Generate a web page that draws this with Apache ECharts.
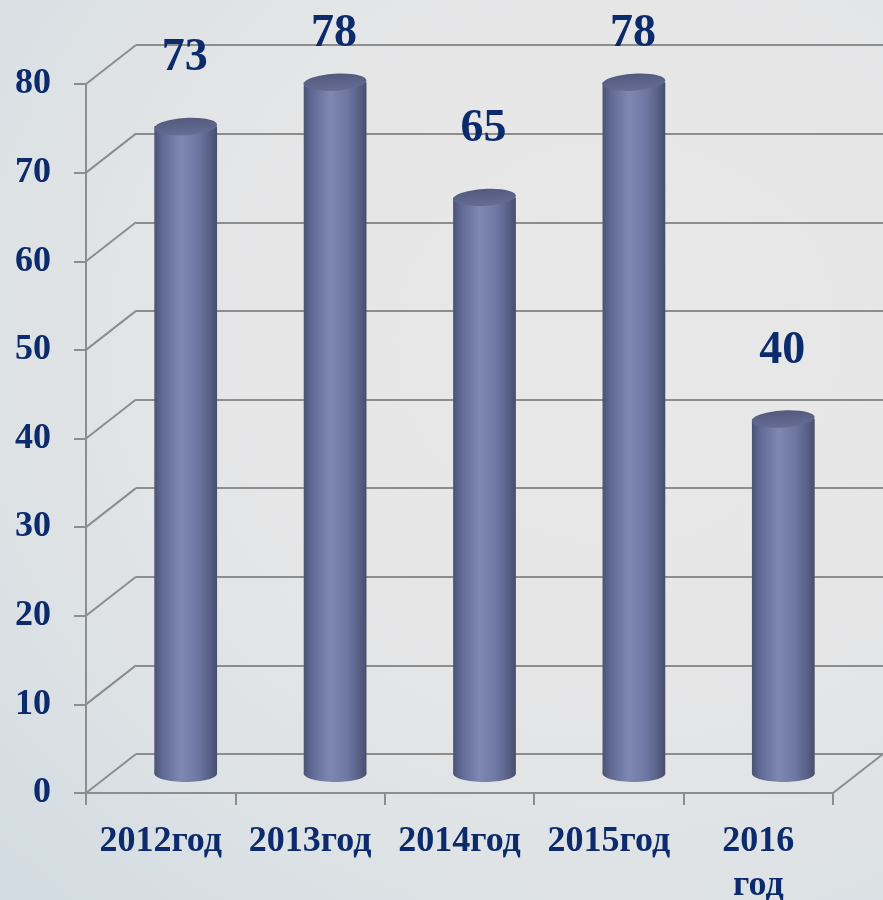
<!DOCTYPE html>
<html>
<head>
<meta charset="utf-8">
<title>2012–2016</title>
<script src="https://cdn.jsdelivr.net/npm/echarts@6/dist/echarts.min.js"></script>
<style>
  html, body { margin: 0; padding: 0; }
  body {
    width: 883px; height: 900px; overflow: hidden;
    background: radial-gradient(ellipse 95% 85% at 70% 38%, #e8e8e8 0%, #e6e6e7 45%, #dde2e5 75%, #d3dce2 100%);
  }
  #chart { width: 883px; height: 900px; }
</style>
</head>
<body>
<div id="chart"></div>
<script>
// Years on the category axis
const years = ['2012год', '2013год', '2014год', '2015год', '2016 год'];
// Value for each year
const counts = [73, 78, 65, 78, 40];
// Value-axis ticks (0 … 80 step 10)
const yTicks = [0, 10, 20, 30, 40, 50, 60, 70, 80];

// Depth of the pseudo-3D box: the back wall is the front frame shifted by this
const DEPTH_X = 50;
const DEPTH_Y = 39;

const NAVY = '#0c2b6c';
const GRID_GRAY = '#8d8d8d';
const FONT = '"Liberation Serif", "Times New Roman", serif';

const FRONT = { left: 86, right: 50, top: 84, bottom: 107 };
const BACK = {
  left: FRONT.left + DEPTH_X,
  right: FRONT.right - DEPTH_X,
  top: FRONT.top - DEPTH_Y,
  bottom: FRONT.bottom + DEPTH_Y
};

// Side-wall diagonals from each front tick to the back wall, plus the floor's right edge
function renderDepthLines(params, api) {
  const cs = params.coordSys;
  const v = api.value(1);
  const y = api.coord([0, v])[1];
  const lineStyle = { stroke: GRID_GRAY, lineWidth: 2 };
  const children = [{
    type: 'line',
    shape: { x1: cs.x, y1: y, x2: cs.x + DEPTH_X, y2: y - DEPTH_Y },
    style: lineStyle
  }];
  if (v === 0) {
    children.push({
      type: 'line',
      shape: { x1: cs.x + cs.width, y1: y, x2: cs.x + cs.width + DEPTH_X, y2: y - DEPTH_Y },
      style: lineStyle
    });
  }
  return { type: 'group', children };
}

// Cylinder standing in the middle of the box depth, with its value label above
function renderCylinder(params, api) {
  const i = api.value(0);
  const v = api.value(1);
  const base = api.coord([i, 0]);
  const top = api.coord([i, v]);
  const cx = base[0] + DEPTH_X / 2;
  const yb = base[1] - DEPTH_Y / 2;
  const yt = top[1] - DEPTH_Y / 2;
  const w = api.size([1, 0])[0] * 0.42;
  const rx = w / 2;
  const ry = 8.5;

  const bodyFill = new echarts.graphic.LinearGradient(0, 0, 1, 0, [
    { offset: 0, color: '#4b5374' },
    { offset: 0.12, color: '#5f6892' },
    { offset: 0.42, color: '#7e88b3' },
    { offset: 0.7, color: '#6d77a1' },
    { offset: 0.9, color: '#555d83' },
    { offset: 1, color: '#474e6d' }
  ]);
  const capFill = new echarts.graphic.LinearGradient(0, 0, 0, 1, [
    { offset: 0, color: '#535a7c' },
    { offset: 1, color: '#656d96' }
  ]);

  // Keep the label baseline inside the canvas
  const labelBaseline = Math.max(yt - ry - 47, 47);
  const fontSize = 46;

  return {
    type: 'group',
    children: [
      {
        type: 'ellipse',
        shape: { cx: cx, cy: yb, rx: rx, ry: ry },
        style: { fill: bodyFill }
      },
      {
        type: 'rect',
        shape: { x: cx - rx, y: yt, width: w, height: yb - yt },
        style: { fill: bodyFill }
      },
      {
        type: 'ellipse',
        shape: { cx: cx, cy: yt, rx: rx, ry: ry },
        rotation: 0.06,
        originX: cx,
        originY: yt,
        style: { fill: capFill }
      },
      {
        type: 'text',
        style: {
          text: String(v),
          x: cx - 1,
          y: labelBaseline - fontSize * 0.28,
          textAlign: 'center',
          textVerticalAlign: 'middle',
          fill: NAVY,
          font: 'bold ' + fontSize + 'px ' + FONT
        }
      }
    ]
  };
}

const chart = echarts.init(document.getElementById('chart'), null, { renderer: 'canvas' });

chart.setOption({
  backgroundColor: 'transparent',
  animation: false,
  grid: [
    Object.assign({ containLabel: false, outerBoundsMode: 'none' }, FRONT),
    Object.assign({ containLabel: false, outerBoundsMode: 'none' }, BACK)
  ],
  xAxis: [
    {
      type: 'category',
      gridIndex: 0,
      data: years,
      axisLine: { show: true, lineStyle: { color: GRID_GRAY, width: 2 } },
      axisTick: { show: true, interval: 0, length: 12, lineStyle: { color: GRID_GRAY, width: 2 } },
      axisLabel: {
        interval: 0,
        margin: 27,
        color: NAVY,
        fontFamily: FONT,
        fontWeight: 'bold',
        fontSize: 36,
        lineHeight: 44,
        formatter: function (s) { return s.replace(' ', '\n'); }
      },
      splitLine: { show: false }
    },
    {
      type: 'category',
      gridIndex: 1,
      data: years,
      show: false
    }
  ],
  yAxis: [
    {
      type: 'value',
      gridIndex: 0,
      min: 0,
      max: 80,
      interval: 10,
      axisLine: { show: true, lineStyle: { color: GRID_GRAY, width: 2 } },
      axisTick: { show: true, length: 12, lineStyle: { color: GRID_GRAY, width: 2 } },
      axisLabel: {
        margin: 35,
        padding: [6, 0, 0, 0],
        color: NAVY,
        fontFamily: FONT,
        fontWeight: 'bold',
        fontSize: 36
      },
      splitLine: { show: false }
    },
    {
      type: 'value',
      gridIndex: 1,
      min: 0,
      max: 80,
      interval: 10,
      axisLine: { show: false },
      axisTick: { show: false },
      axisLabel: { show: false },
      splitLine: { show: true, lineStyle: { color: GRID_GRAY, width: 2 } }
    }
  ],
  series: [
    {
      type: 'custom',
      name: 'depth',
      xAxisIndex: 0,
      yAxisIndex: 0,
      silent: true,
      clip: false,
      z: 1,
      data: yTicks.map(function (v) { return [0, v]; }),
      renderItem: renderDepthLines
    },
    {
      type: 'custom',
      name: 'count',
      xAxisIndex: 0,
      yAxisIndex: 0,
      clip: false,
      z: 3,
      data: counts.map(function (v, i) { return [i, v]; }),
      renderItem: renderCylinder
    }
  ]
});
</script>
</body>
</html>
